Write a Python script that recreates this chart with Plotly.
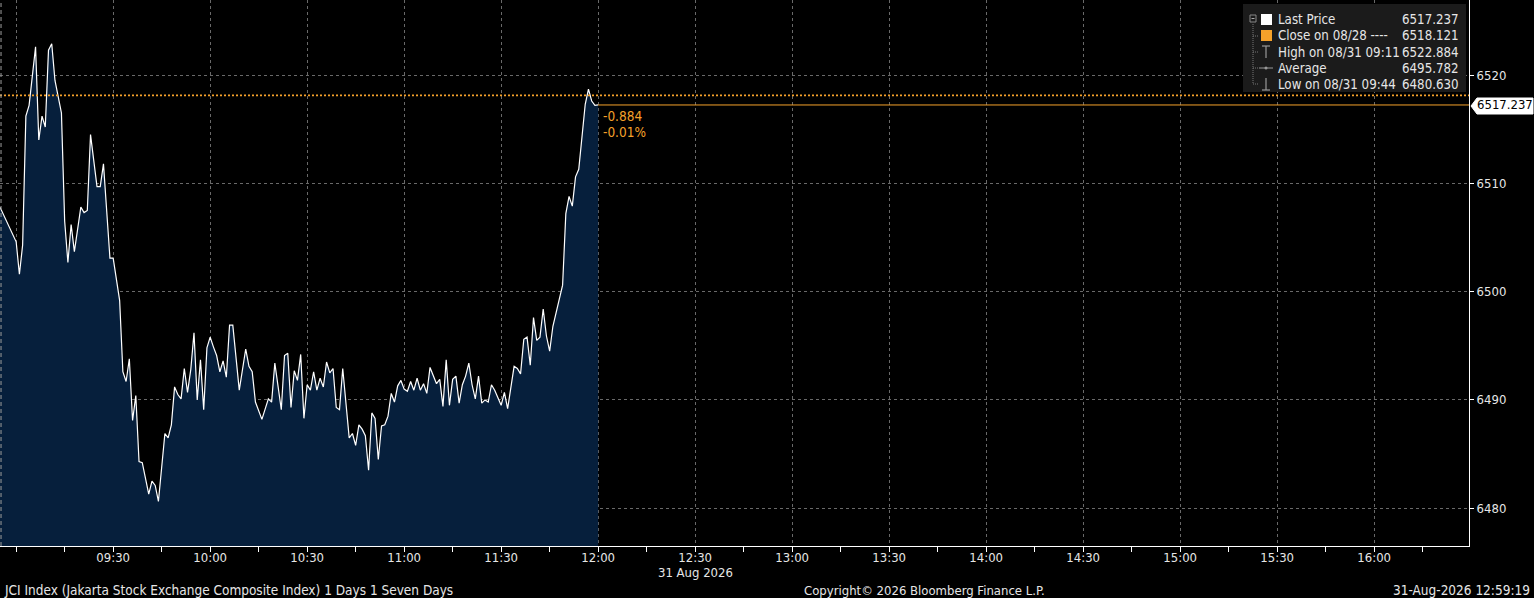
import plotly.graph_objects as go

# ---------------- data ----------------
DATE = "2026-08-31"
times = ["08:55", "09:00", "09:01", "09:02", "09:03", "09:04", "09:06", "09:07", "09:08", "09:09",
         "09:10", "09:11", "09:12", "09:14", "09:15", "09:16", "09:17", "09:18", "09:20", "09:21",
         "09:22", "09:23", "09:25", "09:26", "09:27", "09:29", "09:30", "09:31", "09:32", "09:33",
         "09:34", "09:35", "09:36", "09:37", "09:38", "09:39", "09:41", "09:42", "09:43", "09:44",
         "09:46", "09:47", "09:48", "09:49", "09:50", "09:51", "09:52", "09:53", "09:54", "09:55",
         "09:56", "09:57", "09:58", "09:59", "10:00", "10:01", "10:02", "10:03", "10:04", "10:05",
         "10:06", "10:07", "10:09", "10:11", "10:12", "10:13", "10:14", "10:16", "10:18", "10:19",
         "10:20", "10:22", "10:23", "10:24", "10:25", "10:26", "10:27", "10:28", "10:29", "10:30",
         "10:31", "10:32", "10:33", "10:34", "10:35", "10:36", "10:37", "10:38", "10:39", "10:40",
         "10:41", "10:43", "10:44", "10:45", "10:46", "10:47", "10:48", "10:49", "10:50", "10:51",
         "10:52", "10:53", "10:54", "10:55", "10:56", "10:57", "10:58", "10:59", "11:00", "11:01",
         "11:02", "11:03", "11:04", "11:05", "11:06", "11:07", "11:08", "11:10", "11:11", "11:12",
         "11:13", "11:14", "11:15", "11:16", "11:17", "11:18", "11:19", "11:20", "11:21", "11:22",
         "11:23", "11:24", "11:25", "11:26", "11:27", "11:28", "11:30", "11:31", "11:32", "11:34",
         "11:35", "11:36", "11:37", "11:38", "11:39", "11:40", "11:41", "11:42", "11:43", "11:44",
         "11:45", "11:46", "11:48", "11:49", "11:50", "11:51", "11:52", "11:53", "11:54", "11:55",
         "11:56", "11:57", "11:58", "11:59", "12:00"]
prices = [6507.8, 6504.6, 6501.6, 6504.3, 6516.2, 6517.2, 6522.6, 6514.0, 6516.2, 6515.2,
          6522.3, 6522.884, 6519.5, 6516.5, 6506.5, 6502.7, 6506.2, 6503.7, 6507.8, 6507.3,
          6507.5, 6514.5, 6509.7, 6509.7, 6511.8, 6503.1, 6503.1, 6500.9, 6499.2, 6492.6,
          6491.7, 6493.8, 6488.1, 6490.4, 6484.3, 6484.2, 6481.3, 6482.5, 6482.1, 6480.63,
          6486.9, 6486.5, 6487.7, 6491.2, 6490.5, 6490.1, 6492.9, 6490.7, 6492.8, 6496.2,
          6490.0, 6493.7, 6489.1, 6494.8, 6495.8, 6494.9, 6494.1, 6492.6, 6493.6, 6492.1,
          6496.9, 6496.9, 6490.9, 6494.7, 6493.1, 6492.6, 6489.8, 6488.2, 6490.1, 6489.8,
          6493.4, 6489.1, 6494.1, 6494.3, 6489.3, 6492.7, 6491.8, 6494.2, 6488.3, 6491.4,
          6490.9, 6492.6, 6490.9, 6492.0, 6491.2, 6493.5, 6492.5, 6492.9, 6489.3, 6489.1,
          6492.9, 6486.5, 6486.9, 6485.8, 6487.7, 6487.3, 6486.7, 6483.5, 6488.8, 6488.3,
          6484.5, 6487.6, 6487.7, 6488.5, 6490.6, 6489.8, 6491.3, 6491.8, 6491.0, 6490.8,
          6491.7, 6490.9, 6492.0, 6490.9, 6491.5, 6490.6, 6493.0, 6491.5, 6491.9, 6489.4,
          6493.7, 6489.5, 6491.9, 6492.2, 6489.7, 6491.4, 6492.2, 6493.4, 6491.4, 6490.1,
          6492.2, 6489.7, 6490.0, 6489.8, 6491.4, 6490.9, 6489.5, 6490.7, 6489.2, 6493.1,
          6492.9, 6492.4, 6495.6, 6495.8, 6493.2, 6497.6, 6495.5, 6495.8, 6498.4, 6495.9,
          6494.5, 6496.8, 6499.2, 6500.6, 6507.2, 6508.8, 6507.9, 6510.6, 6511.3, 6514.0,
          6517.3, 6518.7, 6517.6, 6517.2, 6517.237]

last_price = 6517.237
prev_close = 6518.121
high_val = 6522.884
avg_val = 6495.782
low_val = 6480.630
change_txt = "-0.884"
change_pct_txt = "-0.01%"

legend_labels = ["Last Price", "Close on 08/28 ----", "High on 08/31 09:11", "Average", "Low on 08/31 09:44"]
legend_values = ["6517.237", "6518.121", "6522.884", "6495.782", "6480.630"]

x_tick_times = ["09:00", "09:30", "10:00", "10:30", "11:00", "11:30", "12:00", "12:30",
                "13:00", "13:30", "14:00", "14:30", "15:00", "15:30", "16:00"]
x_tick_text = ["", "09:30", "10:00", "10:30", "11:00", "11:30", "12:00", "12:30",
               "13:00", "13:30", "14:00", "14:30", "15:00", "15:30", "16:00"]
y_ticks = [6480, 6490, 6500, 6510, 6520]

footer_left = "JCI Index (Jakarta Stock Exchange Composite Index) 1 Days 1 Seven Days"
footer_mid = "Copyright\u00a9 2026 Bloomberg Finance L.P."
footer_right = "31-Aug-2026 12:59:19"
date_label = "31 Aug 2026"

# ---------------- styling ----------------
W, H = 1534, 598
PW, PH = 1469, 546          # plot area size in px
FONT = "Liberation Sans Narrow, DejaVu Sans Condensed, Arial Narrow, Roboto, sans-serif"
ORANGE = "#f5a12a"
FILL = "#061f3c"
GRID = "rgba(150,150,150,0.7)"
TXT = "#e6e6e6"
LEG_SIZE = 13.2


def px(x):
    return x / PW


def py(y):
    return 1 - y / PH


xs = [f"{DATE} {t}" for t in times]

fig = go.Figure()
fig.add_trace(go.Scatter(
    x=xs, y=prices, mode="lines",
    line=dict(color="white", width=1.2),
    fill="tozeroy", fillcolor=FILL,
    hoverinfo="skip", showlegend=False,
))

shapes = []
annotations = []

# previous close dotted line
shapes.append(dict(type="line", xref="paper", yref="y", x0=0, x1=1, y0=prev_close, y1=prev_close,
                   line=dict(color=ORANGE, width=1.6, dash="2px,2px"), layer="above"))
# last price solid line from last point to right axis
shapes.append(dict(type="line", xref="x", yref="y", x0=xs[-1], x1=f"{DATE} 16:29:20",
                   y0=last_price, y1=last_price, line=dict(color=ORANGE, width=1), layer="above"))
# left dashed border
shapes.append(dict(type="line", xref="paper", yref="paper", x0=0.0007, x1=0.0007, y0=0, y1=1,
                   line=dict(color=GRID, width=1.5, dash="4px,3px"), layer="above"))

# change annotations
annotations.append(dict(x=xs[-1], y=last_price, xref="x", yref="y", text=change_txt,
                        showarrow=False, xanchor="left", yanchor="top", xshift=3, yshift=-1,
                        font=dict(family=FONT, size=13.5, color=ORANGE)))
annotations.append(dict(x=xs[-1], y=last_price, xref="x", yref="y", text=change_pct_txt,
                        showarrow=False, xanchor="left", yanchor="top", xshift=3, yshift=-17,
                        font=dict(family=FONT, size=13.5, color=ORANGE)))

# right-side last price tag
shapes.append(dict(type="path", xref="paper", yref="paper",
                   path=f"M {px(1471)} {py(106)} L {px(1477)} {py(98)} L {px(1533)} {py(98)} "
                        f"L {px(1533)} {py(114)} L {px(1477)} {py(114)} Z",
                   fillcolor="white", line=dict(color="white", width=1), layer="above"))
annotations.append(dict(x=px(1505), y=last_price, xref="paper", yref="y", text=f"{last_price:.3f}",
                        showarrow=False, xanchor="center", yanchor="middle",
                        font=dict(family=FONT, size=13, color="black")))

# legend box
shapes.append(dict(type="rect", xref="paper", yref="paper", x0=px(1243), x1=px(1466),
                   y0=py(92), y1=py(4), fillcolor="#1b1b1b", line=dict(width=0), layer="above"))
row_y = [20, 36, 52, 68, 84]
# tree lines
shapes.append(dict(type="line", xref="paper", yref="paper", x0=px(1253), x1=px(1253),
                   y0=py(24), y1=py(84), line=dict(color="#777777", width=1, dash="1px,1px"), layer="above"))
for ry in row_y[1:]:
    shapes.append(dict(type="line", xref="paper", yref="paper", x0=px(1253), x1=px(1259),
                       y0=py(ry), y1=py(ry), line=dict(color="#777777", width=1, dash="1px,1px"),
                       layer="above"))
# collapse box
shapes.append(dict(type="rect", xref="paper", yref="paper", x0=px(1250), x1=px(1256),
                   y0=py(22), y1=py(15), fillcolor="#1b1b1b", line=dict(color="#888888", width=1),
                   layer="above"))
shapes.append(dict(type="line", xref="paper", yref="paper", x0=px(1251.5), x1=px(1254.5),
                   y0=py(18.5), y1=py(18.5), line=dict(color="#aaaaaa", width=1), layer="above"))
# white square / orange square
shapes.append(dict(type="rect", xref="paper", yref="paper", x0=px(1261), x1=px(1272),
                   y0=py(25), y1=py(14), fillcolor="white", line=dict(width=0), layer="above"))
shapes.append(dict(type="rect", xref="paper", yref="paper", x0=px(1261), x1=px(1272),
                   y0=py(41), y1=py(30), fillcolor=ORANGE, line=dict(width=0), layer="above"))
# high symbol (T)
shapes.append(dict(type="line", xref="paper", yref="paper", x0=px(1262), x1=px(1270),
                   y0=py(46), y1=py(46), line=dict(color="#999999", width=1.2), layer="above"))
shapes.append(dict(type="line", xref="paper", yref="paper", x0=px(1266), x1=px(1266),
                   y0=py(46), y1=py(58), line=dict(color="#999999", width=1.2), layer="above"))
# average symbol
shapes.append(dict(type="line", xref="paper", yref="paper", x0=px(1259), x1=px(1273),
                   y0=py(68), y1=py(68), line=dict(color="#999999", width=1), layer="above"))
shapes.append(dict(type="circle", xref="paper", yref="paper", x0=px(1264.5), x1=px(1267.5),
                   y0=py(69.5), y1=py(66.5), fillcolor="#999999", line=dict(width=0), layer="above"))
# low symbol
shapes.append(dict(type="line", xref="paper", yref="paper", x0=px(1266), x1=px(1266),
                   y0=py(78), y1=py(90), line=dict(color="#999999", width=1.2), layer="above"))
shapes.append(dict(type="line", xref="paper", yref="paper", x0=px(1262), x1=px(1270),
                   y0=py(90), y1=py(90), line=dict(color="#999999", width=1.2), layer="above"))

for lab, val, ry in zip(legend_labels, legend_values, row_y):
    annotations.append(dict(x=px(1276), y=py(ry), xref="paper", yref="paper", text=lab,
                            showarrow=False, xanchor="left", yanchor="middle",
                            font=dict(family=FONT, size=LEG_SIZE, color=TXT)))
    annotations.append(dict(x=px(1461), y=py(ry), xref="paper", yref="paper", text=val,
                            showarrow=False, xanchor="right", yanchor="middle",
                            font=dict(family=FONT, size=LEG_SIZE, color=TXT)))

# date under 12:30
annotations.append(dict(x=f"{DATE} 12:30", y=py(572), xref="x", yref="paper", text=date_label,
                        showarrow=False, xanchor="center", yanchor="middle",
                        font=dict(family=FONT, size=13, color=TXT)))
# footer
annotations.append(dict(x=px(2), y=py(590), xref="paper", yref="paper", text=footer_left,
                        showarrow=False, xanchor="left", yanchor="middle",
                        font=dict(family=FONT, size=13.5, color=TXT)))
annotations.append(dict(x=px(924), y=py(590), xref="paper", yref="paper", text=footer_mid,
                        showarrow=False, xanchor="center", yanchor="middle",
                        font=dict(family=FONT, size=13, color=TXT)))
annotations.append(dict(x=px(1532), y=py(590), xref="paper", yref="paper", text=footer_right,
                        showarrow=False, xanchor="right", yanchor="middle",
                        font=dict(family=FONT, size=13.5, color=TXT)))

fig.update_layout(
    width=W, height=H,
    paper_bgcolor="black", plot_bgcolor="black",
    margin=dict(l=0, r=W - PW, t=0, b=H - PH, autoexpand=False),
    font=dict(family=FONT, size=13, color=TXT),
    shapes=shapes, annotations=annotations,
    showlegend=False,
    xaxis=dict(
        type="date",
        range=[f"{DATE} 08:55", f"{DATE} 16:29:20"],
        tickmode="array",
        tickvals=[f"{DATE} {t}" for t in x_tick_times],
        ticktext=x_tick_text,
        ticks="outside", ticklen=5, tickcolor="white", tickwidth=1,
        ticklabelstandoff=-6,
        showgrid=True, gridcolor=GRID, griddash="dot", gridwidth=1,
        showline=True, linecolor="white", linewidth=1,
        zeroline=False,
        tickfont=dict(family=FONT, size=13, color=TXT),
        minor=dict(ticks="outside", ticklen=5, tickcolor="white",
                   tick0=f"{DATE} 09:00", dtick=15 * 60 * 1000, showgrid=False),
        fixedrange=True,
    ),
    yaxis=dict(
        side="right",
        range=[6476.51, 6526.93],
        tickmode="array", tickvals=y_ticks,
        ticks="outside", ticklen=4, tickcolor="white",
        showgrid=True, gridcolor=GRID, griddash="dot", gridwidth=1,
        showline=True, linecolor="white", linewidth=1,
        zeroline=False,
        tickfont=dict(family=FONT, size=13, color=TXT),
        fixedrange=True,
    ),
)

fig.write_html(
    "out.html",
    config={"displayModeBar": False},
    post_script="document.body.style.margin='0';document.body.style.overflow='hidden';",
)
